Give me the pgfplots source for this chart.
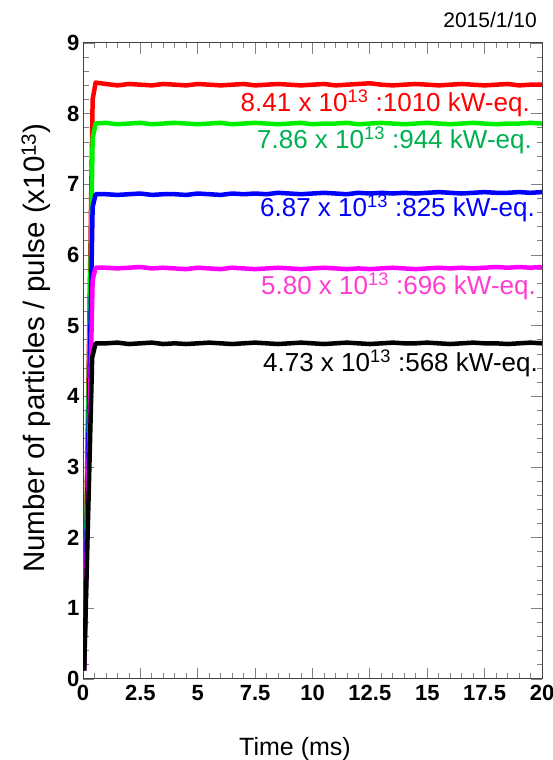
\documentclass[border=0pt]{standalone}
\usepackage{pgfplots}
\pgfplotsset{compat=1.18}
\usepackage{fontspec}
\setmainfont{Liberation Sans}
\definecolor{rred}{RGB}{255,0,0}
\definecolor{rgreen}{RGB}{0,240,0}
\definecolor{tgreen}{RGB}{0,176,80}
\definecolor{rblue}{RGB}{0,0,255}
\definecolor{rmag}{RGB}{255,0,255}
\definecolor{tmag}{RGB}{255,60,210}
\begin{document}
\begin{tikzpicture}
\begin{axis}[
  scale only axis, width=459pt, height=636pt,
  xmin=0, xmax=20, ymin=0, ymax=9,
  xtick={0,2.5,5,7.5,10,12.5,15,17.5,20},
  xticklabels={0,2.5,5,7.5,10,12.5,15,17.5,20},
  ytick={0,1,2,3,4,5,6,7,8,9},
  minor x tick num=4, minor y tick num=4,
  major tick length=11pt, minor tick length=5.5pt,
  tick align=inside,
  every tick/.style={gray, line width=0.8pt},
  axis line style={line width=1pt, black!75},
  /pgf/number format/assume math mode=true,
  ticklabel style={font=\fontsize{22}{26}\selectfont\bfseries},
  xticklabel style={yshift=-3pt},
  clip=true,
  line join=round,
]
\addplot[rred, line width=4.5pt] coordinates {
(0.05,0.12) (0.42,8.20) (0.55,8.44) (1,8.42) (1.5,8.40) (2,8.42) (2.5,8.41) (3,8.40) (3.5,8.42) (4,8.41) (4.5,8.40) (5,8.42) (5.5,8.41) (6,8.40) (6.5,8.41) (7,8.42) (7.5,8.40) (8,8.41) (8.5,8.42) (9,8.41) (9.5,8.40) (10,8.41) (10.5,8.42) (11,8.40) (11.5,8.41) (12,8.42) (12.5,8.43) (13,8.41) (13.5,8.40) (14,8.41) (14.5,8.42) (15,8.41) (15.5,8.40) (16,8.41) (16.5,8.42) (17,8.41) (17.5,8.40) (18,8.41) (18.5,8.42) (19,8.40) (19.5,8.41) (20,8.41)
};
\addplot[rgreen, line width=4.5pt] coordinates {
(0.05,0.12) (0.42,7.65) (0.55,7.86) (1,7.87) (1.5,7.85) (2,7.86) (2.5,7.87) (3,7.85) (3.5,7.86) (4,7.87) (4.5,7.86) (5,7.85) (5.5,7.86) (6,7.87) (6.5,7.85) (7,7.86) (7.5,7.87) (8,7.86) (8.5,7.85) (9,7.86) (9.5,7.87) (10,7.85) (10.5,7.86) (11,7.86) (11.5,7.87) (12,7.85) (12.5,7.86) (13,7.87) (13.5,7.86) (14,7.85) (14.5,7.86) (15,7.87) (15.5,7.86) (16,7.85) (16.5,7.86) (17,7.87) (17.5,7.86) (18,7.85) (18.5,7.86) (19,7.86) (19.5,7.87) (20,7.86)
};
\addplot[rblue, line width=4.5pt] coordinates {
(0.05,0.12) (0.42,6.68) (0.55,6.86) (1,6.86) (1.5,6.85) (2,6.86) (2.5,6.87) (3,6.85) (3.5,6.86) (4,6.86) (4.5,6.85) (5,6.87) (5.5,6.86) (6,6.85) (6.5,6.87) (7,6.86) (7.5,6.87) (8,6.86) (8.5,6.88) (9,6.87) (9.5,6.86) (10,6.87) (10.5,6.88) (11,6.87) (11.5,6.86) (12,6.88) (12.5,6.87) (13,6.88) (13.5,6.87) (14,6.88) (14.5,6.87) (15,6.88) (15.5,6.89) (16,6.88) (16.5,6.87) (17,6.88) (17.5,6.89) (18,6.88) (18.5,6.88) (19,6.89) (19.5,6.88) (20,6.89)
};
\addplot[rmag, line width=4.5pt] coordinates {
(0.05,0.12) (0.42,5.65) (0.55,5.82) (1,5.82) (1.5,5.81) (2,5.82) (2.5,5.83) (3,5.81) (3.5,5.82) (4,5.81) (4.5,5.80) (5,5.82) (5.5,5.81) (6,5.80) (6.5,5.82) (7,5.81) (7.5,5.80) (8,5.81) (8.5,5.82) (9,5.81) (9.5,5.80) (10,5.81) (10.5,5.82) (11,5.81) (11.5,5.80) (12,5.81) (12.5,5.80) (13,5.81) (13.5,5.82) (14,5.81) (14.5,5.80) (15,5.81) (15.5,5.82) (16,5.81) (16.5,5.82) (17,5.81) (17.5,5.82) (18,5.83) (18.5,5.82) (19,5.83) (19.5,5.82) (20,5.83)
};
\addplot[black, line width=4.5pt] coordinates {
(0.05,0.12) (0.40,4.55) (0.55,4.75) (1,4.75) (1.5,4.76) (2,4.74) (2.5,4.75) (3,4.76) (3.5,4.74) (4,4.75) (4.5,4.74) (5,4.75) (5.5,4.76) (6,4.75) (6.5,4.74) (7,4.75) (7.5,4.76) (8,4.75) (8.5,4.74) (9,4.75) (9.5,4.76) (10,4.75) (10.5,4.74) (11,4.75) (11.5,4.76) (12,4.75) (12.5,4.74) (13,4.75) (13.5,4.76) (14,4.75) (14.5,4.75) (15,4.76) (15.5,4.75) (16,4.74) (16.5,4.75) (17,4.76) (17.5,4.75) (18,4.75) (18.5,4.74) (19,4.75) (19.5,4.76) (20,4.75)
};
\end{axis}
\begin{scope}[font=\fontsize{26}{30}\selectfont]
\node[anchor=base east, inner sep=0pt, text=rred] at (447pt,567pt) {8.41 x 10\textsuperscript{13} :1010 kW-eq.};
\node[anchor=base east, inner sep=0pt, text=tgreen] at (449pt,530pt) {7.86 x 10\textsuperscript{13} :944 kW-eq.};
\node[anchor=base east, inner sep=0pt, text=rblue] at (452pt,462pt) {6.87 x 10\textsuperscript{13} :825 kW-eq.};
\node[anchor=base east, inner sep=0pt, text=tmag] at (453pt,384pt) {5.80 x 10\textsuperscript{13} :696 kW-eq.};
\node[anchor=base east, inner sep=0pt, text=black] at (455pt,307pt) {4.73 x 10\textsuperscript{13} :568 kW-eq.};
\end{scope}
\node[anchor=base east, inner sep=0pt, font=\fontsize{21}{25}\selectfont] at (454pt,651pt) {2015/1/10};
\node[anchor=base, inner sep=0pt, font=\fontsize{25}{30}\selectfont] at (212pt,-76pt) {Time (ms)};
\node[anchor=base east, rotate=90, inner sep=0pt, font=\fontsize{29.5}{34}\selectfont] at (-38pt,556pt) {Number of particles / pulse (x10\textsuperscript{13})};
\pgfresetboundingbox
\path[use as bounding box] (-83pt,-81pt) rectangle (470pt,679pt);
\end{tikzpicture}
\end{document}
